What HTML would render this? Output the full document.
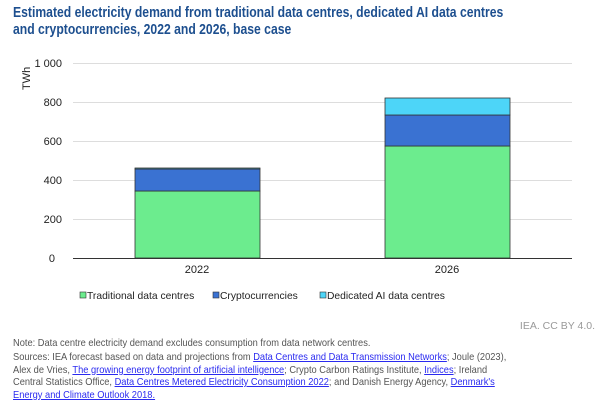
<!DOCTYPE html>
<html><head><style>
body{margin:0;width:600px;height:409px;background:#fff;font-family:"Liberation Sans",Arial,sans-serif;position:relative;overflow:hidden}
.t{position:absolute;left:13px;top:5px;font-weight:bold;font-size:14.5px;color:#1d4f8f;line-height:17px;width:700px;transform:scaleX(0.84);transform-origin:0 0;white-space:nowrap}
.n{position:absolute;left:13px;font-size:10.5px;color:#555;line-height:12.5px;white-space:nowrap;transform:scaleX(0.885);transform-origin:0 0}
a{color:#2a2af0;text-decoration:underline}
</style></head><body>
<div class="t">Estimated electricity demand from traditional data centres, dedicated AI data centres<br>and cryptocurrencies, 2022 and 2026, base case</div>
<svg width="600" height="409" style="position:absolute;left:0;top:0" font-family="Liberation Sans, Arial, sans-serif">
<g stroke="#ddd" stroke-width="1">
<line x1="73" x2="572" y1="63.5" y2="63.5"/><line x1="73" x2="572" y1="102.5" y2="102.5"/><line x1="73" x2="572" y1="141.5" y2="141.5"/><line x1="73" x2="572" y1="180.5" y2="180.5"/><line x1="73" x2="572" y1="219.5" y2="219.5"/>
</g>
<g font-size="11" fill="#222" text-anchor="end">
<text x="62" y="67">1 000</text><text x="62" y="106">800</text><text x="62" y="145">600</text><text x="62" y="184">400</text><text x="62" y="223">200</text><text x="55" y="262">0</text>
</g>
<text transform="translate(30,90) rotate(-90)" font-size="11" fill="#222">TWh</text>
<g stroke="#333" stroke-width="0.8">
<rect x="135" y="191" width="125" height="67" fill="#6cec8e"/>
<rect x="135" y="169" width="125" height="22" fill="#3a72d2"/>
<rect x="135" y="168" width="125" height="1" fill="#4dd5f8"/>
<rect x="385" y="146" width="125" height="112" fill="#6cec8e"/>
<rect x="385" y="115" width="125" height="31" fill="#3a72d2"/>
<rect x="385" y="98" width="125" height="17" fill="#4dd5f8"/>
</g>
<line x1="73" x2="572" y1="258.5" y2="258.5" stroke="#333" stroke-width="1"/>
<g font-size="11" fill="#222" text-anchor="middle"><text x="197" y="273">2022</text><text x="447" y="273">2026</text></g>
<g font-size="10.3" fill="#222">
<rect x="80" y="292" width="6" height="6" fill="#6cec8e" stroke="#333" stroke-width="0.6"/><text x="87" y="299">Traditional data centres</text>
<rect x="213" y="292" width="6" height="6" fill="#3a72d2" stroke="#333" stroke-width="0.6"/><text x="220" y="299">Cryptocurrencies</text>
<rect x="320" y="292" width="6" height="6" fill="#4dd5f8" stroke="#333" stroke-width="0.6"/><text x="327" y="299">Dedicated AI data centres</text>
</g>
<text x="595" y="329" font-size="10.5" fill="#999" text-anchor="end">IEA. CC BY 4.0.</text>
</svg>
<div class="n" style="top:337px">Note: Data centre electricity demand excludes consumption from data network centres.</div>
<div class="n" style="top:351px">Sources: IEA forecast based on data and projections from <a>Data Centres and Data Transmission Networks</a>; Joule (2023),<br>Alex de Vries, <a>The growing energy footprint of artificial intelligence</a>; Crypto Carbon Ratings Institute, <a>Indices</a>; Ireland<br>Central Statistics Office, <a>Data Centres Metered Electricity Consumption 2022</a>; and Danish Energy Agency, <a>Denmark's</a><br><a>Energy and Climate Outlook 2018.</a></div>
</body></html>
